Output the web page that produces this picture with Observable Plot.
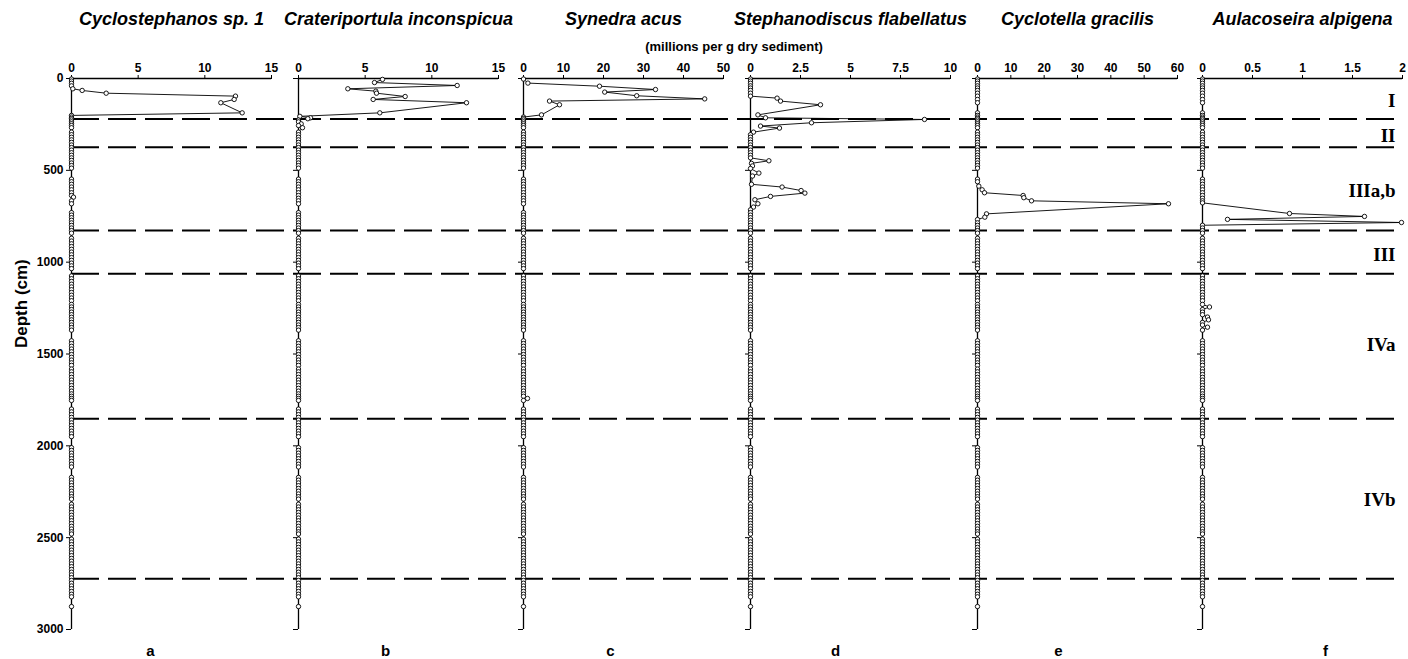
<!DOCTYPE html>
<html><head><meta charset="utf-8">
<script src="https://cdn.jsdelivr.net/npm/d3@7"></script>
<script src="https://cdn.jsdelivr.net/npm/@observablehq/plot@0.6"></script>
<style>
body{margin:0;background:#fff;}
#chart{position:relative;width:1408px;height:659px;overflow:hidden;background:#fff;}
#chart svg{position:absolute;top:0;overflow:visible;}
</style></head><body><div id="chart"></div>
<script>
// ---------- DATA ----------
// baseline sample depths (cm) where every taxon is ~0 unless listed below
const depthCm = [3, 14, 26, 40, 52, 65, 80, 96, 114, 132, 187, 201, 210, 218, 226, 236, 246, 256, 268,
 292, 306, 320, 334, 348, 362, 376, 390, 404, 418, 432, 446, 460, 474, 488,
 548, 562, 576, 591, 606, 622, 637, 652, 666, 682,
 730, 744, 758, 772, 786, 800, 814, 828, 842,
 870, 885, 900, 915, 930, 945, 960, 975, 990, 1005, 1020, 1035,
 1075, 1090, 1105, 1120, 1135, 1150, 1165, 1180, 1195, 1210,
 1230, 1244, 1258, 1272, 1286, 1300, 1314, 1328, 1342, 1356, 1370,
 1428, 1443, 1458, 1473, 1488, 1503, 1518, 1533, 1548, 1562,
 1582, 1597, 1612, 1627, 1642, 1657, 1672, 1687, 1702, 1717, 1730, 1742, 1753,
 1800, 1815, 1830, 1845, 1860, 1875, 1890, 1905, 1920, 1935, 1950,
 2010, 2025, 2040, 2055, 2070, 2085, 2100, 2115,
 2172, 2187, 2202, 2217, 2232, 2247, 2262, 2277, 2290,
 2318, 2333, 2348, 2363, 2378, 2393, 2408, 2423, 2438, 2453, 2468, 2480,
 2508, 2523, 2538, 2553, 2568, 2583, 2598, 2613, 2628, 2643, 2658, 2673, 2688, 2703, 2718, 2733, 2748, 2763, 2778, 2793, 2808, 2822,
 2875];

// readings (millions per g dry sediment) where a taxon departs from the baseline
const cyclostephanosDepth = [56, 65, 80, 96, 114, 132, 187, 201, 646];
const cyclostephanosValue = [0.1, 0.8, 2.6, 12.3, 12.2, 11.2, 12.8, 0, 0.15];

const crateriportulaDepth = [5, 22, 38, 56, 69, 80, 98, 114, 132, 187, 206, 214, 219, 226, 236, 247, 256, 268];
const crateriportulaValue = [6.3, 5.7, 11.9, 3.7, 5.8, 5.85, 8.0, 5.6, 12.6, 6.1, 0.1, 0.9, 0.7, 0, 0, 0.2, 0, 0.3];

const synedraDepth = [3, 25, 42, 60, 74, 94, 111, 123, 143, 198, 210, 1742];
const synedraValue = [0, 1.1, 19, 33, 20.3, 28.3, 45.3, 6.5, 9.0, 4.5, 0, 1.0];

const stephanodiscusDepth = [96, 107, 123, 143, 198, 214, 223, 241, 259, 270, 292, 306,
  432, 448, 462, 476, 490, 515, 531, 576, 591, 610, 624, 642, 660, 682, 700, 715];
const stephanodiscusValue = [0, 1.33, 1.5, 3.5, 0.37, 0.75, 8.7, 3.05, 0.5, 1.45, 0.15, 0,
  0, 0.92, 0.05, 0.1, 0, 0.42, 0.1, 0.05, 1.58, 2.53, 2.72, 1.0, 0.22, 0.37, 0.15, 0];

const cyclotellaDepth = [548, 562, 586, 606, 622, 637, 649, 666, 682, 737, 755, 768];
const cyclotellaValue = [0, 0, 0.4, 1.4, 2.1, 13.7, 13.9, 16.2, 57.3, 2.7, 2.2, 0];

const aulacoseiraDepth = [666, 677, 735, 751, 767, 784, 799,
  1230, 1244, 1258, 1272, 1286, 1299, 1314, 1328, 1342, 1354, 1370];
const aulacoseiraValue = [0, 0, 0.87, 1.62, 0.25, 1.99, 0,
  0, 0.07, 0, 0, 0, 0.05, 0.06, 0, 0, 0.05, 0];

const taxa = ["Cyclostephanos sp. 1", "Crateriportula inconspicua", "Synedra acus",
  "Stephanodiscus flabellatus", "Cyclotella gracilis", "Aulacoseira alpigena"];
const panelLetters = ["a", "b", "c", "d", "e", "f"];
const xMax = [15, 15, 50, 10, 60, 2];
const xTicks = [[0, 5, 10, 15], [0, 5, 10, 15], [0, 10, 20, 30, 40, 50],
  [0, 2.5, 5, 7.5, 10], [0, 10, 20, 30, 40, 50, 60], [0, 0.5, 1, 1.5, 2]];
const depthTicks = [0, 500, 1000, 1500, 2000, 2500, 3000];

const zoneBoundaries = [220, 374, 827, 1063, 1853, 2724];
const zoneNames = ["I", "II", "IIIa,b", "III", "IVa", "IVb"];
const zoneLabelDepth = [120, 310, 610, 963, 1453, 2292];

const unitLabel = "(millions per g dry sediment)";
const depthLabel = "Depth (cm)";

// ---------- LAYOUT ----------
const W = 1408, H = 659, TOP = 78, BOTTOM = 30;
const panelLeft = [71, 298, 523, 750, 977, 1202];
const panelW = 200;
const letterDx = [-21, -13, -13, -15, -19, 23];
const sans = "'Liberation Sans', Arial, Helvetica, sans-serif";

const readings = [
  [cyclostephanosDepth, cyclostephanosValue],
  [crateriportulaDepth, crateriportulaValue],
  [synedraDepth, synedraValue],
  [stephanodiscusDepth, stephanodiscusValue],
  [cyclotellaDepth, cyclotellaValue],
  [aulacoseiraDepth, aulacoseiraValue]
];

function series(dep, val) {
  const pts = dep.map((d, i) => ({depth: d, value: val[i]}));
  const sorted = [...dep].sort((a, b) => a - b);
  const windows = [];
  for (const d of sorted) {
    const w = windows[windows.length - 1];
    if (w && d - w[1] <= 80) w[1] = d; else windows.push([d, d]);
  }
  for (const d of depthCm) {
    if (!windows.some(([s, e]) => d >= s - 6 && d <= e + 6)) pts.push({depth: d, value: 0});
  }
  return pts.sort((a, b) => a.depth - b.depth);
}

const chart = document.getElementById("chart");

// overlay: zone boundaries, zone labels, unit label
const overlay = Plot.plot({
  width: W, height: H, marginTop: TOP, marginBottom: BOTTOM, marginLeft: 71, marginRight: 6,
  style: {background: "transparent", fontFamily: sans, overflow: "visible"},
  x: {domain: [0, 1], axis: null},
  y: {domain: [0, 3000], reverse: true, axis: null},
  marks: [
    Plot.ruleY(zoneBoundaries, {stroke: "black", strokeWidth: 2, strokeDasharray: "28,9"}),
    Plot.text(zoneNames, {y: (d, i) => zoneLabelDepth[i], text: d => d, frameAnchor: "right", textAnchor: "end", dx: -7,
      fontFamily: "'Liberation Serif', 'Times New Roman', serif", fontWeight: "bold", fontSize: 19, fill: "black"}),
    Plot.text([unitLabel], {text: d => d, frameAnchor: "top", dy: -37, dx: -3, fontSize: 13, fontWeight: "bold", fill: "black"})
  ]
});
overlay.style.left = "0px";
chart.appendChild(overlay);

taxa.forEach((name, i) => {
  const ML = i === 0 ? 71 : 24, MR = 14;
  const data = series(readings[i][0], readings[i][1]);
  const marks = [
    Plot.ruleY([0], {stroke: "black", strokeWidth: 1.3}),
    Plot.ruleX([0], {stroke: "black", strokeWidth: 1.3}),
    Plot.axisX({anchor: "top", ticks: xTicks[i], tickSize: 4, tickPadding: 3, label: null, tickFormat: d => String(d), fontSize: 12, fontWeight: "bold"}),
    Plot.axisY({anchor: "left", ticks: depthTicks, tickSize: 5, tickPadding: 3, label: null,
      tickFormat: i === 0 ? d => String(d) : () => "", fontSize: 12, fontWeight: "bold"}),
    Plot.line(data, {x: "value", y: "depth", stroke: "black", strokeWidth: 0.9}),
    Plot.dot(data, {x: "value", y: "depth", r: 2.2, fill: "white", stroke: "black", strokeWidth: 0.9}),
    Plot.text([name], {text: d => d, frameAnchor: "top", dy: -66, fontSize: 18, fontWeight: "bold", fontStyle: "italic", fill: "black"}),
    Plot.text([panelLetters[i]], {text: d => d, frameAnchor: "bottom", dy: 26, dx: letterDx[i], fontSize: 15, fontWeight: "bold", fill: "black"})
  ];
  if (i === 0) {
    marks.push(Plot.text([depthLabel], {text: d => d, frameAnchor: "left", rotate: -90, dx: -50, dy: -6, fontSize: 17, fontWeight: "bold", fill: "black"}));
  }
  const p = Plot.plot({
    width: ML + panelW + MR, height: H, marginTop: TOP, marginBottom: BOTTOM, marginLeft: ML, marginRight: MR,
    style: {background: "transparent", fontFamily: sans, fontSize: "12px", overflow: "visible", color: "black"},
    x: {domain: [0, xMax[i]], axis: null},
    y: {domain: [0, 3000], reverse: true, axis: null},
    marks
  });
  p.style.left = (panelLeft[i] - ML) + "px";
  chart.appendChild(p);
});
</script></body></html>
